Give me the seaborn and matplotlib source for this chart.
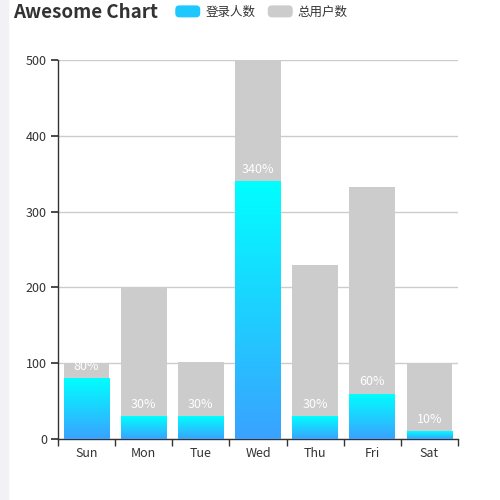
import numpy as np
import pandas as pd
import matplotlib
matplotlib.use('Agg')
import matplotlib.pyplot as plt
import seaborn as sns
from matplotlib.colors import LinearSegmentedColormap
from matplotlib.patches import FancyBboxPatch, Patch, Rectangle
from matplotlib.legend_handler import HandlerPatch

# data
days = ['Sun', 'Mon', 'Tue', 'Wed', 'Thu', 'Fri', 'Sat']
login = [80, 30, 30, 340, 30, 60, 10]
total = [100, 200, 101, 500, 230, 333, 100]
labels = ['80%', '30%', '30%', '340%', '30%', '60%', '10%']

df = pd.DataFrame({'day': days, 'login': login, 'total': total})

sns.set_theme(style='white')
plt.rcParams['font.family'] = ['Noto Sans CJK SC', 'DejaVu Sans']

fig = plt.figure(figsize=(5, 5), dpi=100)
fig.patches.append(Rectangle((0, 0), 8 / 500, 1, transform=fig.transFigure,
                             color='#f1f1f6', zorder=-1))
ax = fig.add_axes([0.116, 0.122, 0.8, 0.758])

# gray totals behind, login bars in front
sns.barplot(data=df, x='day', y='total', color='#cccccc', saturation=1,
            width=0.8, linewidth=0, ax=ax, zorder=2)
n_gray = len(ax.patches)
sns.barplot(data=df, x='day', y='login', color='#1ec8ff', saturation=1,
            width=0.8, linewidth=0, ax=ax, zorder=3)

# vertical gradient on the login bars
cmap = LinearSegmentedColormap.from_list('g', ['#3aa2ff', '#00ffff'])
grad = np.linspace(0, 1, 256).reshape(-1, 1)
for p in ax.patches[n_gray:]:
    x0, w, h = p.get_x(), p.get_width(), p.get_height()
    im = ax.imshow(grad, cmap=cmap, aspect='auto', origin='lower',
                   extent=(x0, x0 + w, 0, h), zorder=3)
    im.set_clip_path(p)
    p.set_facecolor('none')
    p.set_edgecolor('none')

for p, lab in zip(ax.patches[n_gray:], labels):
    ax.annotate(lab, (p.get_x() + p.get_width() / 2, p.get_height()),
                xytext=(0, 4), textcoords='offset points',
                ha='center', va='bottom', color='white', fontsize=9, zorder=5)

ax.set_xlim(-0.5, 6.5)
ax.set_ylim(0, 500)
ax.set_yticks(range(0, 501, 100))
ax.set_xlabel('')
ax.set_ylabel('')
ax.yaxis.grid(True, color='#cccccc', linewidth=1, zorder=0)
ax.set_axisbelow(True)
for s in ['top', 'right']:
    ax.spines[s].set_visible(False)
for s in ['left', 'bottom']:
    ax.spines[s].set_color('#333333')
    ax.spines[s].set_linewidth(1)
ax.set_xticks(np.arange(-0.5, 7, 1), minor=True)
ax.tick_params(axis='x', which='major', length=0, labelsize=9, colors='#333333', pad=6)
ax.tick_params(axis='x', which='minor', length=5, color='#333333', direction='out')
ax.tick_params(axis='y', length=5, labelsize=9, colors='#333333', direction='out', pad=3)
ax.xaxis.set_tick_params(bottom=True, which='both')
ax.yaxis.set_tick_params(left=True)

fig.text(0.026, 0.976, 'Awesome Chart', fontsize=13.5, fontweight='bold',
         color='#333333', va='center', ha='left')


class RoundHandler(HandlerPatch):
    def create_artists(self, legend, orig_handle, xdescent, ydescent,
                       width, height, fontsize, trans):
        r = FancyBboxPatch((-xdescent, -ydescent), width, height,
                           boxstyle='round,pad=0,rounding_size=3',
                           fc=orig_handle.get_facecolor(), ec='none',
                           transform=trans)
        return [r]


handles = [Patch(color='#1ec8ff', label='登录人数'),
           Patch(color='#cccccc', label='总用户数')]
fig.legend(handles=handles, loc='center left', bbox_to_anchor=(0.338, 0.976),
           ncol=2, frameon=False, fontsize=9, handlelength=2.0,
           handleheight=1.1, handletextpad=0.4, columnspacing=1.0,
           borderpad=0, labelcolor='#333333',
           handler_map={Patch: RoundHandler()})

fig.savefig('out.png', dpi=100)
